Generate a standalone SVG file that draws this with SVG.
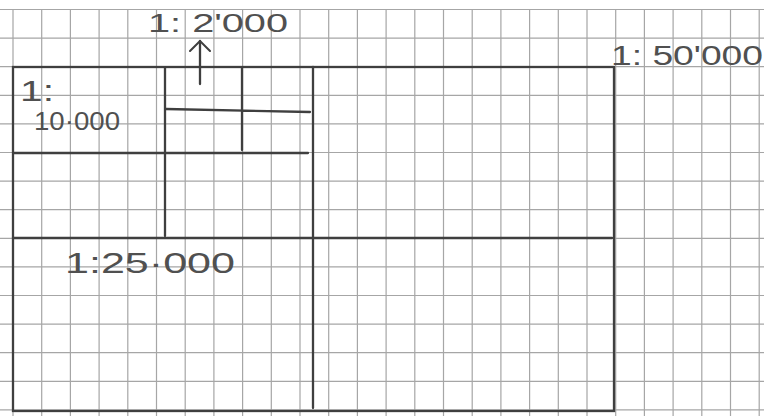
<svg xmlns="http://www.w3.org/2000/svg" width="764" height="416" viewBox="0 0 764 416">
<style>
.grid{stroke:#a6a6a6;stroke-width:1.2;fill:none}
.pen{stroke:#3f3f3f;stroke-width:2.3;fill:none;stroke-linecap:round}
.hand{font-family:"Liberation Sans","DejaVu Sans",sans-serif;fill:#505050;font-weight:normal}
</style>
<defs>
<marker id="open" viewBox="0 0 12 22" refX="11" refY="11" markerWidth="12" markerHeight="22" markerUnits="userSpaceOnUse" orient="auto">
<path d="M1,1 L11,11 L1,21" fill="none" stroke="#3f3f3f" stroke-width="2" stroke-linecap="round"/>
</marker>
</defs>
<rect width="764" height="416" fill="#ffffff"/>
<g id="grid" class="grid">
<path d="M13,9V416M41.7,9V416M70.4,9V416M99.1,9V416M127.8,9V416M156.5,9V416M185.2,9V416M213.9,9V416M242.6,9V416M271.3,9V416M300,9V416M328.7,9V416M357.4,9V416M386.1,9V416M414.8,9V416M443.5,9V416M472.2,9V416M500.9,9V416M529.6,9V416M558.3,9V416M587,9V416M615.7,9V416M644.4,9V416M673.1,9V416M701.8,9V416M730.5,9V416M759.2,9V416"/>
<path d="M0,9.5H764M0,38.1H764M0,66.7H764M0,95.3H764M0,123.9H764M0,152.5H764M0,181.1H764M0,209.7H764M0,238.3H764M0,266.9H764M0,295.5H764M0,324.1H764M0,352.7H764M0,381.3H764M0,409.9H764"/>
</g>
<g id="sheet-50000">
<rect class="pen" x="13" y="67" width="601" height="344"/>
<text class="hand" x="611" y="65" font-size="27" textLength="152" lengthAdjust="spacingAndGlyphs">1: 50'000</text>
</g>
<g id="sheet-25000">
<path class="pen" d="M13,238H612M313,67V408"/>
<text class="hand" x="65" y="273" font-size="30" textLength="170" lengthAdjust="spacingAndGlyphs">1:25·000</text>
</g>
<g id="sheet-10000">
<path class="pen" d="M13,153H308M165,68V236"/>
<text class="hand" x="20" y="101" font-size="29" textLength="34" lengthAdjust="spacingAndGlyphs">1:</text>
<text class="hand" x="34" y="130" font-size="25" textLength="86" lengthAdjust="spacingAndGlyphs">10·000</text>
</g>
<g id="sheet-2000">
<path class="pen" d="M242,68V150M166,109L310,112"/>
<text class="hand" x="148" y="32" font-size="25" textLength="140" lengthAdjust="spacingAndGlyphs">1: 2'000</text>
</g>
<g id="connectors">
<path class="pen" d="M200,84V41" marker-end="url(#open)"/>
</g>
</svg>
